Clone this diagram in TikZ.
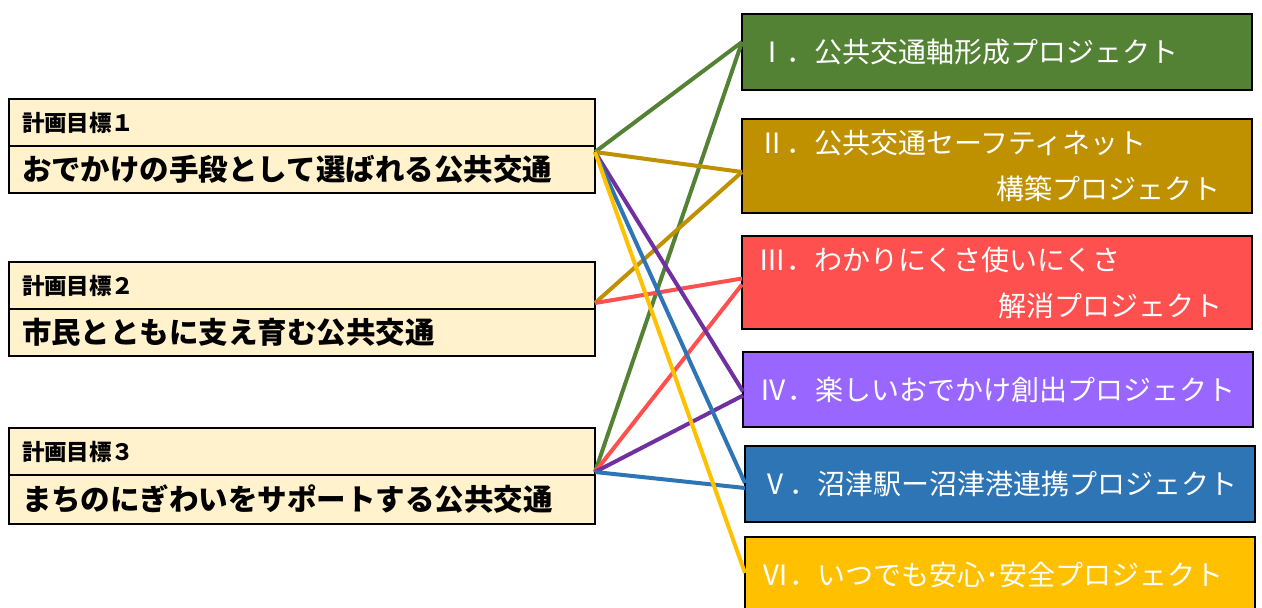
\documentclass[tikz,border=0pt]{standalone}
\usepackage{fontspec}
\setmainfont{Noto Sans CJK JP}
\usetikzlibrary{positioning}
\definecolor{goalfill}{HTML}{FFF2CC}
\definecolor{pgreen}{HTML}{548235}
\definecolor{pgold}{HTML}{BF9000}
\definecolor{pred}{HTML}{FF5050}
\definecolor{ppurple}{HTML}{9966FF}
\definecolor{lpurple}{HTML}{7030A0}
\definecolor{pblue}{HTML}{2E75B6}
\definecolor{pyellow}{HTML}{FFC000}

\begin{document}
\begin{tikzpicture}[x=1pt,y=-1pt,
  goalhead/.style={draw=black,line width=2pt,fill=goalfill,text width=560pt,
    inner xsep=13pt,inner ysep=0pt,outer sep=0pt,minimum height=47pt,align=left,
    font=\fontsize{22.5}{26}\selectfont\bfseries},
  goaltitle/.style={goalhead,font=\fontsize{29.5}{32}\selectfont\bfseries},
  projbox/.style={draw=black,line width=2.5pt,fill=#1,text=white,text width=478pt,
    inner xsep=16pt,inner ysep=0pt,outer sep=0pt,minimum height=76pt,align=left,
    font=\fontsize{28}{46}\selectfont},
  link/.style={line width=4pt,#1}]

  \useasboundingbox (0,0) rectangle (1262,608);

  \node[goalhead,anchor=north west] (g1h) at (9,99) {計画目標１};
  \node[goaltitle,below=0pt of g1h] (g1) {おでかけの手段として選ばれる公共交通};
  \node[goalhead,below=69pt of g1] (g2h) {計画目標２};
  \node[goaltitle,below=0pt of g2h] (g2) {市民とともに支え育む公共交通};
  \node[goalhead,below=72pt of g2] (g3h) {計画目標３};
  \node[goaltitle,below=0pt of g3h,minimum height=49pt] (g3) {まちのにぎわいをサポートする公共交通};

  \node[projbox=pgreen,anchor=north west] (p1) at (742,14) {Ⅰ．公共交通軸形成プロジェクト};
  \node[projbox=pgold,anchor=north west,minimum height=94pt] (p2) at (742,119)
    {Ⅱ．公共交通セーフティネット\\\hspace*{\fill}構築プロジェクト\hspace*{16pt}};
  \node[projbox=pred,anchor=north west,minimum height=93pt] (p3) at (742,236)
    {Ⅲ．わかりにくさ使いにくさ\\\hspace*{\fill}解消プロジェクト\hspace*{14pt}};
  \node[projbox=ppurple,anchor=north west,minimum height=75pt] (p4) at (743,352) {Ⅳ．楽しいおでかけ創出プロジェクト};
  \node[projbox=pblue,anchor=north west] (p5) at (745,446) {Ⅴ．沼津駅ー沼津港連携プロジェクト};
  \node[projbox=pyellow,anchor=north west] (p6) at (745,537) {Ⅵ．いつでも安心･安全プロジェクト};

  \coordinate (o1) at ([yshift=-6pt]g1.north east);
  \coordinate (o2) at ([yshift=6pt]g2.north east);
  \coordinate (o3) at ([yshift=3pt]g3.north east);

  \draw[link=pgreen] (o1) -- ([yshift=10pt]p1.west);
  \draw[link=pgreen] (o3) -- ([yshift=10pt]p1.west);
  \draw[link=pgold] (o1) -- ([yshift=-6pt]p2.west);
  \draw[link=pgold] (o2) -- ([yshift=-6pt]p2.west);
  \draw[link=pred] (o2) -- ([yshift=4pt]p3.west);
  \draw[link=pred] (o3) -- ([yshift=-2pt]p3.west);
  \draw[link=lpurple] (o1) -- ([yshift=-2pt]p4.west);
  \draw[link=lpurple] (o3) -- ([yshift=-6pt]p4.west);
  \draw[link=pblue] (o1) -- ([yshift=1pt]p5.west);
  \draw[link=pblue] (o3) -- ([yshift=-4pt]p5.west);
  \draw[link=pyellow] (o1) -- ([yshift=2pt]p6.west);
\end{tikzpicture}
\end{document}
